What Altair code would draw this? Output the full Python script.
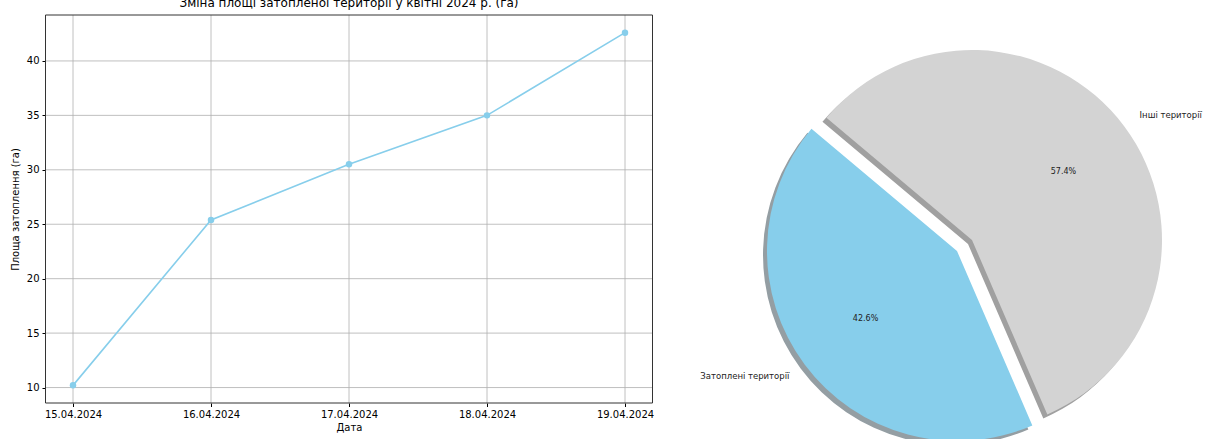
import altair as alt
import pandas as pd

# ---- data ----
dates = ["15.04.2024", "16.04.2024", "17.04.2024", "18.04.2024", "19.04.2024"]
areas = [10.2, 25.4, 30.5, 35.0, 42.6]
y_ticks = [10, 15, 20, 25, 30, 35, 40]
pie_labels = ["Затоплені території", "Інші території"]
pie_values = [42.6, 57.4]
pie_order = [0, 1]
title_text = "Зміна площі затопленої території у квітні 2024 р. (га)"

line_df = pd.DataFrame({"date": dates, "area": areas})
tick_df = pd.DataFrame({"area": y_ticks})
pie_df = pd.DataFrame({
    "label": pie_labels,
    "value": pie_values,
    "order": pie_order,
    "pct": [f"{v:.1f}%" for v in pie_values],
})
one_df = pd.DataFrame({"a": [0]})

FONT = "DejaVu Sans"
X_LEFT, X_RIGHT, Y_TOP, Y_BOTTOM = 45.5, 652.5, 15, 403
SKY = "#87CEEB"
GREY = "#D3D3D3"

xscale = alt.Scale(type="point", domain=dates, range=[73, 625], padding=0)
yscale = alt.Scale(domain=[8.58, 44.22], range=[Y_BOTTOM, Y_TOP], nice=False, zero=False)

x_axis = alt.Axis(
    title="Дата", labelAngle=0, offset=-36, domain=False, grid=False,
    tickSize=3.5, tickColor="black", labelColor="black", labelFontSize=10,
    titleFontSize=10, titleFontWeight="normal", titleColor="black",
    labelPadding=3, titlePadding=3, labelFont=FONT, titleFont=FONT)
y_axis = alt.Axis(
    title="Площа затоплення (га)", values=y_ticks, offset=-45.5, domain=False, grid=False,
    tickSize=3.5, tickColor="black", labelColor="black", labelFontSize=10,
    titleFontSize=10, titleFontWeight="normal", titleColor="black",
    labelPadding=3, titlePadding=6, labelFont=FONT, titleFont=FONT)

X_ENC = alt.X("date:O", scale=xscale, axis=x_axis, title="Дата")
Y_ENC = alt.Y("area:Q", scale=yscale, axis=y_axis, title="Площа затоплення (га)")

vgrid = alt.Chart(line_df).mark_rule(color="#b0b0b0", strokeWidth=0.8).encode(
    x=X_ENC, y=alt.value(Y_TOP), y2=alt.value(Y_BOTTOM),
)
hgrid = alt.Chart(tick_df).mark_rule(color="#b0b0b0", strokeWidth=0.8).encode(
    y=Y_ENC, x=alt.value(X_LEFT), x2=alt.value(X_RIGHT),
)

line = alt.Chart(line_df).mark_line(
    color=SKY, strokeWidth=1.6,
    point=alt.OverlayMarkDef(color=SKY, size=42, filled=True, opacity=1),
).encode(x=X_ENC, y=Y_ENC)

frame = alt.Chart(one_df).mark_rect(fillOpacity=0, stroke="#333333", strokeWidth=1).encode(
    x=alt.value(X_LEFT), x2=alt.value(X_RIGHT), y=alt.value(Y_TOP), y2=alt.value(Y_BOTTOM)
)

title = alt.Chart(one_df).mark_text(
    text=title_text, fontSize=12, font=FONT, baseline="alphabetic", align="center", color="black"
).encode(x=alt.value(349), y=alt.value(7))

# ---- pie ----
R = 190
GREY_C = (972, 240)
BLUE_C = (957, 251)
SH = (-4, 4)
theta_scale = alt.Scale(range=[2.7339, 9.0171])
is_blue = alt.datum.label == pie_labels[0]


def theta():
    return alt.Theta("value:Q", stack=True, scale=theta_scale)


def show(blue):
    if blue:
        return alt.condition(is_blue, alt.value(1), alt.value(0))
    return alt.condition(is_blue, alt.value(0), alt.value(1))


def arc_layer(center, color, blue, dx=0, dy=0):
    return alt.Chart(pie_df).mark_arc(color=color, radius=R).encode(
        theta=theta(), order=alt.Order("order:Q"),
        x=alt.value(center[0] + dx), y=alt.value(center[1] + dy),
        opacity=show(blue),
    )


def text_layer(center, field, blue, radius, align, size):
    return alt.Chart(pie_df).mark_text(
        align=align, baseline="middle", fontSize=size, font=FONT, color="#222222"
    ).encode(
        theta=theta(), order=alt.Order("order:Q"),
        radius=alt.value(radius),
        x=alt.value(center[0]), y=alt.value(center[1]),
        text=alt.Text(f"{field}:N"),
        opacity=show(blue),
    )


pie_layers = [
    arc_layer(GREY_C, "#a0a0a0", False, *SH),
    arc_layer(BLUE_C, "#949ea3", True, *SH),
    arc_layer(GREY_C, GREY, False),
    arc_layer(BLUE_C, SKY, True),
    text_layer(GREY_C, "label", False, R * 1.1, "left", 8.5),
    text_layer(BLUE_C, "label", True, R * 1.1, "right", 8.5),
    text_layer(GREY_C, "pct", False, R * 0.6, "center", 8),
    text_layer(BLUE_C, "pct", True, R * 0.6, "center", 8),
]

chart = alt.layer(vgrid, hgrid, frame, line, title, *pie_layers).properties(
    width=1220, height=439, padding=0,
    autosize=alt.AutoSizeParams(type="none"),
    background="white",
).configure(font=FONT).configure_view(stroke=None)

chart.save("out.html", embed_options={"renderer": "svg", "actions": False})
